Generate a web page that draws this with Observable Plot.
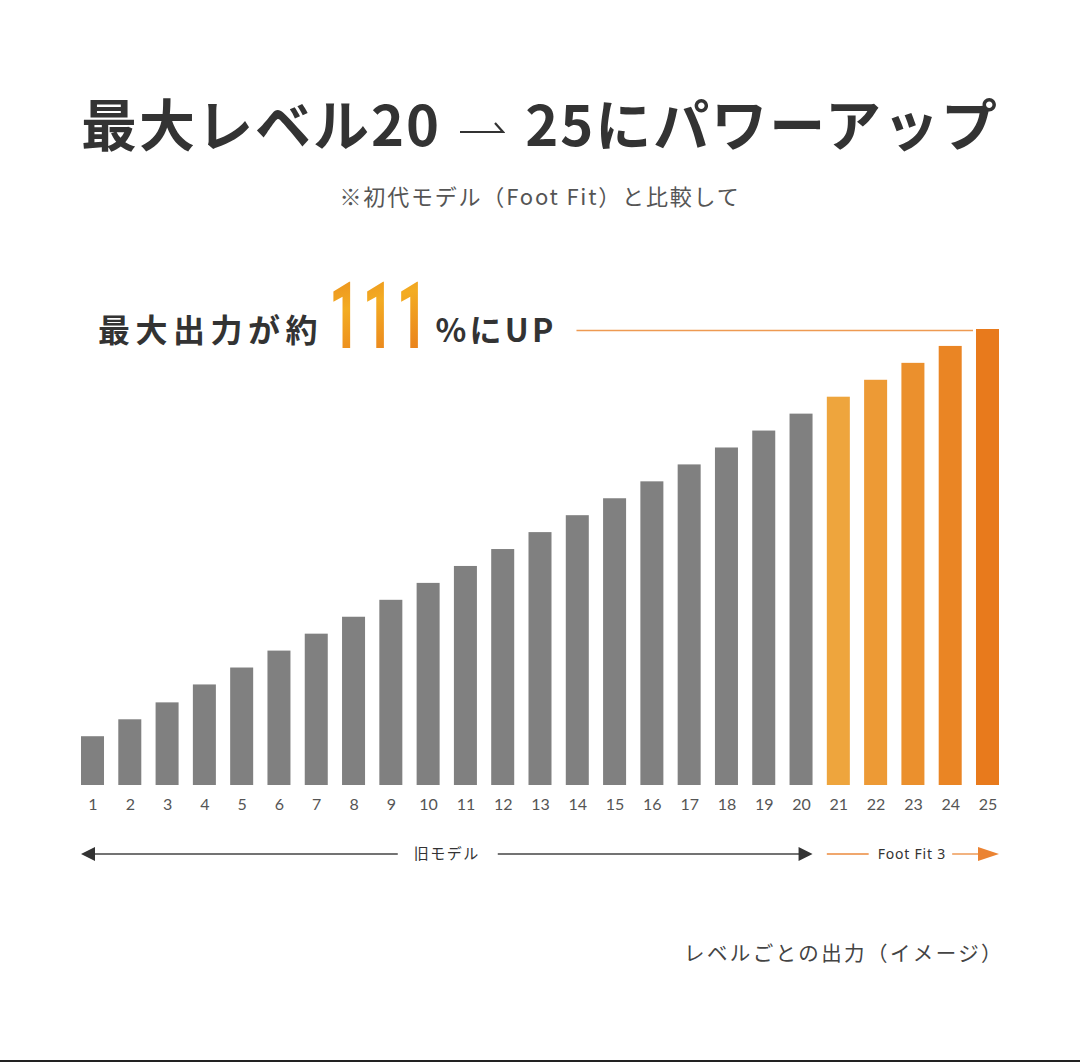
<!DOCTYPE html>
<html><head><meta charset="utf-8">
<script src="https://cdn.jsdelivr.net/npm/d3@7"></script>
<script src="https://cdn.jsdelivr.net/npm/@observablehq/plot@0.6"></script>
<style>
html,body{margin:0;padding:0;background:#fff;}
#page{position:relative;width:1080px;height:1062px;overflow:hidden;font-family:"Noto Sans CJK JP","Noto Sans",sans-serif;background:#fff;}
#title{position:absolute;top:88px;left:0;width:1080px;text-align:center;font-size:56px;font-weight:700;color:#333;line-height:68px;letter-spacing:2px;white-space:nowrap;}
#title svg{display:inline-block;vertical-align:10px;margin:0 20px 0 18px;}
#subtitle{position:absolute;top:180px;left:0;width:1080px;text-align:center;font-size:22px;color:#555;line-height:30px;letter-spacing:1.8px;white-space:nowrap;}
#chart{position:absolute;top:250px;left:0;}
#caption{position:absolute;top:936px;right:76px;font-size:20.5px;color:#444;letter-spacing:2.4px;line-height:32px;white-space:nowrap;}
#bottomline{position:absolute;left:0;bottom:0;width:1080px;height:2px;background:#222;}
</style>
</head>
<body>
<div id="page">
  <div id="title"></div>
  <div id="subtitle"></div>
  <div id="chart"></div>
  <div id="caption"></div>
  <div id="bottomline"></div>
</div>
<script>
// ---- data ----
const levels = ["1","2","3","4","5","6","7","8","9","10","11","12","13","14","15","16","17","18","19","20","21","22","23","24","25"];
const outputs = [49,66,83,101,118,135,152,169,186,203,220,237,254,271,288,305,322,339,356,373,390,407,424,441,458];
const oldMaxLevel = 20;
const groupLabels = ["旧モデル","Foot Fit 3"];
const titleParts = ["最大レベル20","25にパワーアップ"];
const subtitleText = "※初代モデル（Foot Fit）と比較して";
const headlineParts = ["最大出力が約","111","%にUP"];
const captionText = "レベルごとの出力（イメージ）";

// ---- header / caption ----
document.getElementById("title").innerHTML =
  titleParts[0] +
  '<svg width="46" height="18" viewBox="0 0 46 18"><path d="M1 14 H44 L36 5" fill="none" stroke="#333" stroke-width="2.2" stroke-linejoin="miter"/></svg>' +
  titleParts[1];
document.getElementById("subtitle").textContent = subtitleText;
document.getElementById("caption").textContent = captionText;

// ---- chart ----
const data = levels.map((l, i) => ({level: l, value: outputs[i]}));
const gray = "#808080";
const orangeRamp = d3.interpolateRgb("#EEA53D", "#E87A1C");
const fillOf = d => (+d.level <= oldMaxLevel ? gray : orangeRamp((+d.level - oldMaxLevel - 1) / (levels.length - oldMaxLevel - 1)));

const chart = Plot.plot({
  width: 1080,
  height: 650,
  marginLeft: 81,
  marginRight: 81,
  marginTop: 79,
  marginBottom: 115,
  style: {background: "transparent", color: "#555", fontFamily: "Lato, 'Noto Sans', sans-serif"},
  x: {domain: levels, paddingInner: 0.383, paddingOuter: 0, round: false, label: null},
  y: {domain: [0, d3.max(outputs)], axis: null},
  marks: [
    Plot.barY(data, {x: "level", y: "value", fill: fillOf}),
    Plot.axisX({tickSize: 0, tickPadding: 13, fontSize: 16, label: null})
  ]
});
document.getElementById("chart").appendChild(chart);

// ---- annotations positioned through the plot's scales ----
const xs = chart.scale("x"), ys = chart.scale("y");
const bw = xs.bandwidth;
const svg = d3.select(chart);
const left1 = xs.apply(levels[0]);
const right20 = xs.apply(levels[oldMaxLevel - 1]) + bw;
const left21 = xs.apply(levels[oldMaxLevel]);
const right25 = xs.apply(levels[levels.length - 1]) + bw;
const base = ys.apply(0);
const topY = ys.apply(d3.max(outputs));

// gradient for "111"
const defs = svg.append("defs");
const g = defs.append("linearGradient").attr("id", "numGrad").attr("x1", 0).attr("y1", 0).attr("x2", 0.25).attr("y2", 1);
g.append("stop").attr("offset", "0%").attr("stop-color", "#E8841C");
g.append("stop").attr("offset", "45%").attr("stop-color", "#F3AC22");
g.append("stop").attr("offset", "100%").attr("stop-color", "#E97F1C");

const ann = svg.append("g").attr("text-anchor", "start");
const hy = topY + 1;
const hx = left1 + 17;
const t1 = ann.append("text").attr("x", hx).attr("y", hy).attr("dy", "0.36em").attr("text-anchor", "start")
  .attr("font-family", "'Noto Sans CJK JP', sans-serif").attr("font-weight", 700).attr("font-size", 32)
  .attr("letter-spacing", 5.5).attr("fill", "#333").text(headlineParts[0]);
const t1end = hx + t1.node().getComputedTextLength();
const sx = 0.58;
const numX = t1end + 6;
const num = ann.append("text").attr("x", 0).attr("y", 0).attr("text-anchor", "start")
  .attr("transform", `translate(${numX},${hy + 18}) scale(${sx},1)`)
  .attr("font-family", "Roboto, 'Noto Sans', sans-serif").attr("font-weight", 700)
  .attr("font-size", 93).attr("letter-spacing", 5).attr("fill", "url(#numGrad)").text(headlineParts[1]);
const numEnd = numX + num.node().getComputedTextLength() * sx;
const t3x = numEnd + 5;
const t3 = ann.append("text").attr("x", t3x).attr("y", hy).attr("dy", "0.36em").attr("text-anchor", "start")
  .attr("font-family", "'Noto Sans CJK JP', sans-serif").attr("font-weight", 700).attr("font-size", 32)
  .attr("letter-spacing", 3.2).attr("fill", "#333").text(headlineParts[2]);
const t3end = t3x + t3.node().getComputedTextLength();
ann.append("line").attr("x1", t3end + 20).attr("x2", xs.apply(levels[levels.length - 1]) - 3)
  .attr("y1", topY + 1.5).attr("y2", topY + 1.5).attr("stroke", "#EE9A52").attr("stroke-width", 1.6);

// group arrows
const ay = base + 69;
const mid1 = (left1 + right20) / 2, mid2 = (left21 + right25) / 2;
const lab1 = ann.append("text").attr("x", mid1).attr("y", ay).attr("dy", "0.36em").attr("text-anchor", "middle")
  .attr("font-family", "'Noto Sans CJK JP', sans-serif").attr("font-size", 15).attr("letter-spacing", 1.5)
  .attr("fill", "#333").text(groupLabels[0]);
const w1 = lab1.node().getComputedTextLength();
ann.append("line").attr("x1", left1 + 10).attr("x2", mid1 - w1 / 2 - 16).attr("y1", ay).attr("y2", ay).attr("stroke", "#444").attr("stroke-width", 1.4);
ann.append("line").attr("x1", mid1 + w1 / 2 + 18).attr("x2", right20 - 10).attr("y1", ay).attr("y2", ay).attr("stroke", "#444").attr("stroke-width", 1.4);
ann.append("path").attr("d", `M${left1},${ay} L${left1 + 14},${ay - 7} L${left1 + 14},${ay + 7} Z`).attr("fill", "#333");
ann.append("path").attr("d", `M${right20},${ay} L${right20 - 14},${ay - 7} L${right20 - 14},${ay + 7} Z`).attr("fill", "#333");

const lab2 = ann.append("text").attr("x", mid2 - 1).attr("y", ay).attr("dy", "0.36em").attr("text-anchor", "middle")
  .attr("font-family", "'Noto Sans', sans-serif").attr("font-size", 14).attr("letter-spacing", 0.8)
  .attr("fill", "#333").text(groupLabels[1]);
const w2 = lab2.node().getComputedTextLength();
ann.append("line").attr("x1", left21).attr("x2", mid2 - 1 - w2 / 2 - 9).attr("y1", ay).attr("y2", ay).attr("stroke", "#EB8A3C").attr("stroke-width", 1.3);
ann.append("line").attr("x1", mid2 - 1 + w2 / 2 + 6).attr("x2", right25 - 18).attr("y1", ay).attr("y2", ay).attr("stroke", "#EB8A3C").attr("stroke-width", 1.3);
ann.append("path").attr("d", `M${right25},${ay} L${right25 - 21},${ay - 7} L${right25 - 21},${ay + 7} Z`).attr("fill", "#EB8332");
</script>
</body></html>
